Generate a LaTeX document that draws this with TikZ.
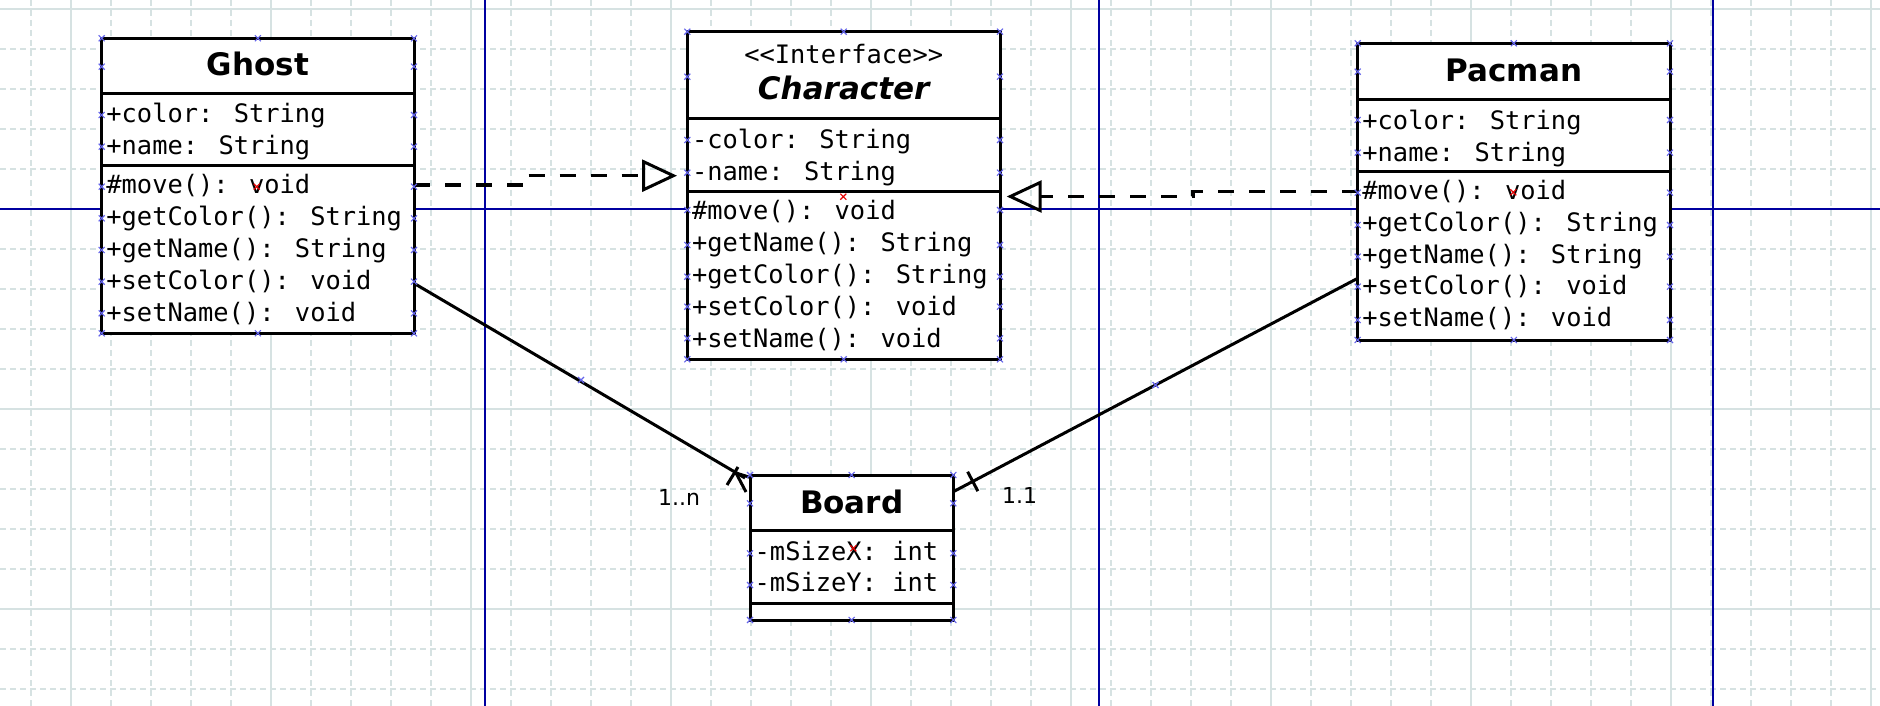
\documentclass[tikz,border=0pt]{standalone}
\usepackage{fontspec}
\setmainfont{DejaVu Sans}
\newfontfamily\monof{DejaVu Sans Mono}
\usetikzlibrary{arrows.meta,calc}
\definecolor{gridc}{RGB}{214,226,226}
\definecolor{pageblue}{RGB}{0,0,160}
\definecolor{cpblue}{RGB}{100,100,235}
\definecolor{hred}{RGB}{230,0,0}
\tikzset{
 gridminor/.style={gridc, line width=1.3pt, dash pattern=on 6pt off 4pt},
 gridmajor/.style={gridc, line width=1.3pt},
 pageline/.style={pageblue, line width=1.4pt},
 umlbox/.style={draw=black, fill=white, line width=3pt, inner sep=0pt, outer sep=0pt, anchor=north west},
 sepline/.style={black, line width=3pt},
 member/.style={anchor=base west, inner sep=0pt, font=\monof\fontsize{25.4}{30}\selectfont},
 ctitle/.style={anchor=base, inner sep=0pt, font=\bfseries\fontsize{31}{36}\selectfont},
 stereo/.style={anchor=base, inner sep=0pt, font=\monof\fontsize{25.4}{30}\selectfont},
 realize/.style={line width=3.5pt, dash pattern=on 16pt off 15pt, -{Triangle[open, length=35pt, width=32pt, line width=3pt]}},
 assoc/.style={line width=3pt},
 mult/.style={anchor=base, inner sep=0pt, font=\fontsize{22}{26}\selectfont},
 cpx/.pic={\draw[cpblue, line width=1.1pt] (-3,-3) -- (3,3) (-3,3) -- (3,-3);},
 hx/.pic={\draw[hred, line width=1.1pt] (-3,-3) -- (3,3) (-3,3) -- (3,-3);},
}
\begin{document}
\begin{tikzpicture}[x=1pt,y=-1pt]
\useasboundingbox (0,0) rectangle (1880,706);
\fill[white] (0,0) rectangle (1880,706);
% grid
\foreach \x in {31,71,...,1871} \draw[gridminor] (\x,0) -- (\x,706);
\foreach \y in {9,49,...,689} \draw[gridminor] (0,\y) -- (1880,\y);
\foreach \x in {71,271,...,1871} \draw[gridmajor] (\x,0) -- (\x,706);
\foreach \y in {9,209,409,609} \draw[gridmajor] (0,\y) -- (1880,\y);
% page boundaries
\foreach \x in {485,1099,1713} \draw[pageline] (\x,0) -- (\x,706);
\draw[pageline] (0,209) -- (1880,209);

% Ghost
\node[umlbox, minimum width=312.3pt, minimum height=295pt] (ghost) at (101.7,38.3) {};
\draw[sepline] (101.7,93.3) -- (414,93.3);
\draw[sepline] (101.7,165.7) -- (414,165.7);
\node[ctitle] (ghostT) at (257.9,76) {Ghost};
\node[member] (g1) at (106.2,122.5) {+color: String};
\node[member] (g2) at (106.2,154.5) {+name: String};
\node[member] (g3) at (106.2,193.5) {\#move(): void};
\node[member] (g4) at (106.2,225.5) {+getColor(): String};
\node[member] (g5) at (106.2,257.5) {+getName(): String};
\node[member] (g6) at (106.2,289.5) {+setColor(): void};
\node[member] (g7) at (106.2,321.5) {+setName(): void};

% Character
\node[umlbox, minimum width=312.7pt, minimum height=327.6pt] (character) at (687.3,31.7) {};
\draw[sepline] (687.3,118.3) -- (1000,118.3);
\draw[sepline] (687.3,191.7) -- (1000,191.7);
\node[stereo] (cS) at (843.7,63.3) {<{}<Interface>{}>};
\node[ctitle, font=\bfseries\itshape\fontsize{31}{36}\selectfont] (cT) at (843.7,100) {Character};
\node[member] (c1) at (691.8,149) {-color: String};
\node[member] (c2) at (691.8,181) {-name: String};
\node[member] (c3) at (691.8,219.5) {\#move(): void};
\node[member] (c4) at (691.8,251.5) {+getName(): String};
\node[member] (c5) at (691.8,283.5) {+getColor(): String};
\node[member] (c6) at (691.8,315.5) {+setColor(): void};
\node[member] (c7) at (691.8,347) {+setName(): void};

% Pacman
\node[umlbox, minimum width=312.3pt, minimum height=296.7pt] (pacman) at (1357.7,43.3) {};
\draw[sepline] (1357.7,100) -- (1670,100);
\draw[sepline] (1357.7,171.7) -- (1670,171.7);
\node[ctitle] (pT) at (1513.8,81.7) {Pacman};
\node[member] (p1) at (1362.2,129.5) {+color: String};
\node[member] (p2) at (1362.2,161.5) {+name: String};
\node[member] (p3) at (1362.2,200) {\#move(): void};
\node[member] (p4) at (1362.2,231.5) {+getColor(): String};
\node[member] (p5) at (1362.2,263) {+getName(): String};
\node[member] (p6) at (1362.2,294.5) {+setColor(): void};
\node[member] (p7) at (1362.2,326) {+setName(): void};

% Board
\node[umlbox, minimum width=203.3pt, minimum height=145pt] (board) at (750,475) {};
\draw[sepline] (750,530.7) -- (953.3,530.7);
\draw[sepline] (750,603.3) -- (953.3,603.3);
\node[ctitle] (bT) at (851.7,513.3) {Board};
\node[member] (b1) at (754.5,560) {-mSizeX: int};
\node[member] (b2) at (754.5,591.7) {-mSizeY: int};

% connectors
\coordinate (gDep) at (414,185);
\coordinate (cDepL) at (677,175.7);
\draw[realize] (gDep) -- ++(112,0) |- (cDepL);
\coordinate (pDep) at (1357.7,191.7);
\coordinate (cDepR) at (1006.7,196.5);
\draw[realize] (pDep) -- ++(-164.7,0) |- (cDepR);

\coordinate (gAs) at (414,283.3);
\coordinate (bAsL) at (745,478);
\draw[assoc] (gAs) -- (bAsL);
\draw[assoc] ($(bAsL)+(-18,7)$) -- ($(bAsL)+(-7,-11)$);
\draw[assoc] ($(bAsL)+(1,14)$) -- ($(bAsL)+(-9,-5)$) -- ($(bAsL)+(7,0)$);
\coordinate (pAs) at (1357.7,278.3);
\coordinate (bAsR) at (953.3,491.7);
\draw[assoc] (pAs) -- (bAsR);
\draw[assoc] ($(bAsR)!22pt!(pAs)!11pt!90:(pAs)$) -- ($(bAsR)!22pt!(pAs)!11pt!-90:(pAs)$);
\node[mult] (m1) at (679,505) {1..n};
\node[mult] (m2) at (1019.5,503.5) {1.1};

% connection points
\foreach \y in {38.3,66.7,115,146.7,186.7,218.3,250,281.7,313.3,333.3} {\pic at (101.7,\y) {cpx}; \pic at (414,\y) {cpx};}
\pic at (257.9,38.3) {cpx}; \pic at (257.9,333.3) {cpx};
\foreach \y in {31.7,76.7,140,172.7,210,245,276.7,306.7,338.3,359.3} {\pic at (687.3,\y) {cpx}; \pic at (1000,\y) {cpx};}
\pic at (843.7,31.7) {cpx}; \pic at (843.7,359.3) {cpx};
\foreach \y in {43.3,71.7,120,152.7,192.7,225,256.7,286.7,320,340} {\pic at (1357.7,\y) {cpx}; \pic at (1670,\y) {cpx};}
\pic at (1513.8,43.3) {cpx}; \pic at (1513.8,340) {cpx};
\foreach \y in {475,503.3,553.3,585,620} {\pic at (750,\y) {cpx}; \pic at (953.3,\y) {cpx};}
\pic at (851.7,475) {cpx}; \pic at (851.7,620) {cpx};
\pic at (581,380) {cpx}; \pic at (1155.5,385) {cpx};
% handles
\pic at (256.7,186.7) {hx}; \pic at (843.3,196.7) {hx}; \pic at (1513.3,192.3) {hx}; \pic at (853.3,548.3) {hx};
\end{tikzpicture}
\end{document}
